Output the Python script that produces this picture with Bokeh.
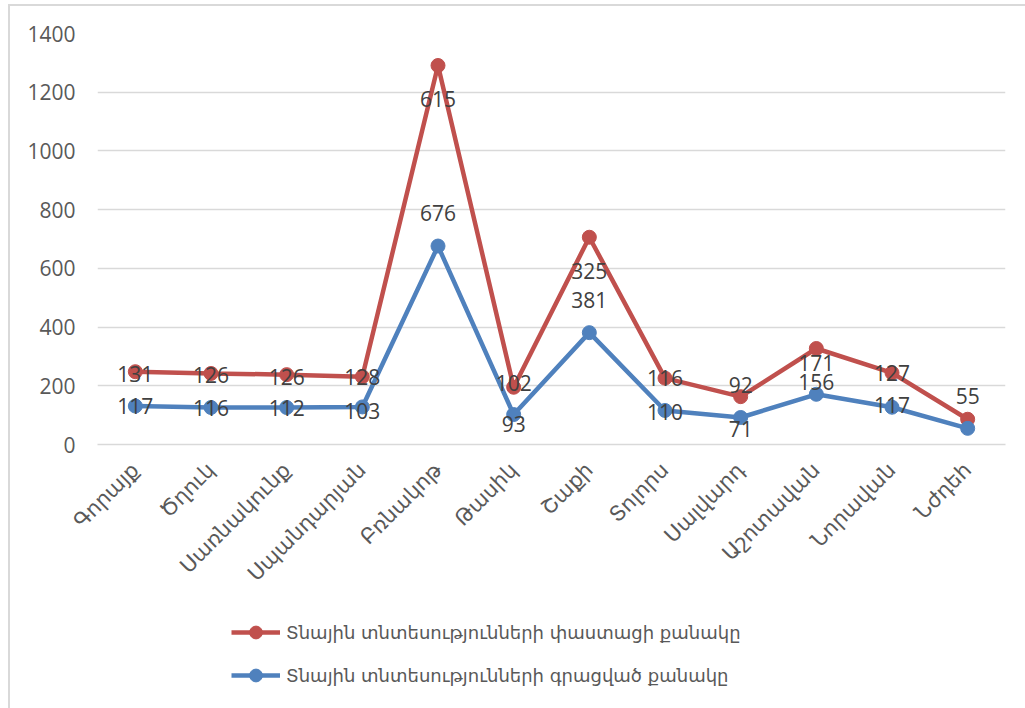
import math
from bokeh.plotting import figure
from bokeh.layouts import column
from bokeh.models import (ColumnDataSource, FactorRange, Range1d, FixedTicker,
                          Legend, LegendItem)
from bokeh.core.properties import value
from bokeh.embed import file_html
from bokeh.resources import INLINE

# ---- data ----
categories = ["Գորայք", "Ծղուկ", "Սառնակունք", "Սպանդարյան", "Բռնակոթ", "Թասիկ",
              "Շաքի", "Տոլորս", "Սալվարդ", "Աշոտավան", "Նորավան", "Նժդեհ"]
registered = [131, 126, 126, 128, 676, 102, 381, 116, 92, 171, 127, 55]   # blue (base)
actual = [117, 116, 112, 103, 615, 93, 325, 110, 71, 156, 117, 31]        # red (stacked on blue)
labels_on_red = ["131", "126", "126", "128", "615", "102", "325", "116", "92", "171", "127", "55"]
labels_on_blue = ["117", "116", "112", "103", "676", "93", "381", "110", "71", "156", "117", "31"]
y_ticks = [0, 200, 400, 600, 800, 1000, 1200, 1400]
name_actual = "Տնային տնտեսությունների փաստացի քանակը"
name_registered = "Տնային տնտեսությունների գրացված քանակը"

# label pixel offsets (style only)
dy_red = [2, 2, 2, 0, 34, -4, 34, 0, -12, 14, 0, -23]
dy_blue = [0, 0, 0, 4, -33, 9, -33, 2, 12, -12, -2, 26]

RED = "#C0504D"
BLUE = "#4F81BD"
GRID = "#D9D9D9"
AXIS_TXT = "#595959"
LBL_TXT = "#404040"
NUM_FONT = "Open Sans"
ARM_FONT = "DejaVu Sans"

stacked = [b + a for b, a in zip(registered, actual)]

src_blue = ColumnDataSource(dict(x=categories, y=registered, t=labels_on_blue, dy=dy_blue))
src_red = ColumnDataSource(dict(x=categories, y=stacked, t=labels_on_red, dy=dy_red))

p = figure(width=1015, height=610, output_backend="svg", toolbar_location=None,
           x_range=FactorRange(*categories, range_padding=0),
           y_range=Range1d(0, 1400),
           min_border_left=87, min_border_right=20, min_border_top=27,
           min_border_bottom=172)
p.outline_line_color = None
p.background_fill_color = "white"
p.border_fill_color = "white"

# grid
p.xgrid.grid_line_color = None
p.ygrid.grid_line_color = GRID
p.ygrid.grid_line_width = 1.5
p.yaxis.ticker = FixedTicker(ticks=y_ticks)

# y axis
p.yaxis.axis_line_color = None
p.yaxis.major_tick_line_color = None
p.yaxis.minor_tick_line_color = None
p.yaxis.major_tick_out = 0
p.yaxis.major_label_standoff = 22
p.yaxis.major_label_text_font = NUM_FONT
p.yaxis.major_label_text_font_size = "21px"
p.yaxis.major_label_text_color = AXIS_TXT

# x axis
p.xaxis.axis_line_color = GRID
p.xaxis.axis_line_width = 1.5
p.xaxis.major_tick_line_color = None
p.xaxis.minor_tick_line_color = None
p.xaxis.major_tick_out = 0
p.xaxis.major_label_orientation = math.pi / 4
p.xaxis.major_label_standoff = 22
p.xaxis.major_label_text_font = ARM_FONT
p.xaxis.major_label_text_font_size = "21px"
p.xaxis.major_label_text_color = AXIS_TXT

# series
p.line("x", "y", source=src_red, line_color=RED, line_width=4.5)
p.scatter("x", "y", source=src_red, size=14, marker="circle", fill_color=RED, line_color=RED)
p.line("x", "y", source=src_blue, line_color=BLUE, line_width=4.5)
p.scatter("x", "y", source=src_blue, size=14, marker="circle", fill_color=BLUE, line_color=BLUE)

# data labels
for src in (src_red, src_blue):
    p.text("x", "y", text="t", source=src, y_offset="dy",
           text_align="center", text_baseline="middle",
           text_font=value(NUM_FONT), text_font_size="21px", text_color=LBL_TXT)

# ---- legend strip below the chart ----
lg = figure(width=1015, height=92, output_backend="svg", toolbar_location=None,
            x_axis_type=None, y_axis_type=None, min_border=0,
            x_range=Range1d(0, 1), y_range=Range1d(0, 1))
lg.outline_line_color = None
lg.xgrid.grid_line_color = None
lg.ygrid.grid_line_color = None
nan_src = ColumnDataSource(dict(x=[float("nan")], y=[float("nan")]))
lr1 = lg.line("x", "y", source=nan_src, line_color=RED, line_width=4.5)
ls1 = lg.scatter("x", "y", source=nan_src, size=13, marker="circle", fill_color=RED, line_color=RED)
lr2 = lg.line("x", "y", source=nan_src, line_color=BLUE, line_width=4.5)
ls2 = lg.scatter("x", "y", source=nan_src, size=13, marker="circle", fill_color=BLUE, line_color=BLUE)
legend = Legend(items=[LegendItem(label=name_actual, renderers=[lr1, ls1]),
                       LegendItem(label=name_registered, renderers=[lr2, ls2])],
                location=(134, 17), orientation="vertical", margin=0,
                glyph_width=49, glyph_height=32, label_height=20, spacing=11,
                padding=0, label_standoff=6,
                label_text_font=ARM_FONT, label_text_font_size="18px",
                label_text_color=AXIS_TXT, border_line_color=None,
                background_fill_alpha=0)
lg.add_layout(legend, "center")

layout = column(p, lg, spacing=0)
layout.styles = {"border-top": "2px solid #D9D9D9", "border-left": "2px solid #D9D9D9",
                 "margin-top": "4px", "margin-left": "8px"}

open("out.html", "w").write(file_html(layout, INLINE))
